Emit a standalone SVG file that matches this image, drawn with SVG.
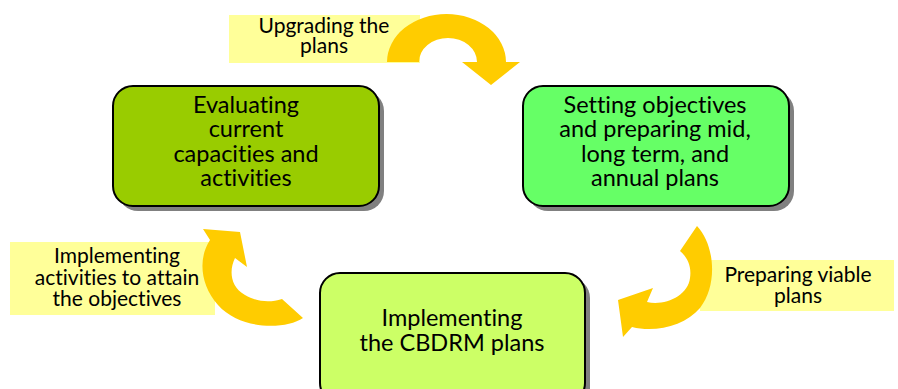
<svg xmlns="http://www.w3.org/2000/svg" width="898" height="389" viewBox="0 0 898 389">
<style>
.node{stroke:#000;stroke-width:2}
.shadow{fill:#808080}
.lbl{fill:#ffff99}
.arrow{fill:#ffcc00}
text{font-family:Lato,"Liberation Sans",sans-serif;fill:#000;text-anchor:middle;font-variant-ligatures:none;font-feature-settings:"liga" 0}
.nt{font-size:23.5px}
.lt{font-size:21px}
</style>
<rect width="898" height="389" fill="#fff"/>
<g id="label-upgrading">
<rect class="lbl" x="229" y="15" width="191" height="48"/>
<text class="lt" x="324" y="33">Upgrading the</text>
<text class="lt" x="324" y="53">plans</text>
</g>
<g id="label-implementing">
<rect class="lbl" x="10" y="242" width="205" height="73"/>
<text class="lt" x="117" y="263">Implementing</text>
<text class="lt" x="117" y="285">activities to attain</text>
<text class="lt" x="117" y="306">the objectives</text>
</g>
<g id="label-preparing">
<rect class="lbl" x="700" y="260" width="194" height="51"/>
<text class="lt" x="798" y="282">Preparing viable</text>
<text class="lt" x="798" y="303">plans</text>
</g>
<g id="node-evaluating">
<rect class="shadow" x="118" y="91" width="266" height="120" rx="20"/>
<rect class="node" x="113" y="86" width="266" height="120" rx="20" fill="#99cc00"/>
<text class="nt" x="246" y="113">Evaluating</text>
<text class="nt" x="246" y="137">current</text>
<text class="nt" x="246" y="162">capacities and</text>
<text class="nt" x="246" y="186">activities</text>
</g>
<g id="node-setting">
<rect class="shadow" x="528" y="91" width="266" height="120" rx="20"/>
<rect class="node" x="523" y="86" width="266" height="120" rx="20" fill="#66ff66"/>
<text class="nt" x="655" y="113">Setting objectives</text>
<text class="nt" x="655" y="137">and preparing mid,</text>
<text class="nt" x="655" y="162">long term, and</text>
<text class="nt" x="655" y="186">annual plans</text>
</g>
<g id="node-implementing">
<rect class="shadow" x="325" y="278" width="265" height="130" rx="20"/>
<rect class="node" x="320" y="273" width="265" height="130" rx="20" fill="#ccff66"/>
<text class="nt" x="452" y="326">Implementing</text>
<text class="nt" x="452" y="351">the CBDRM plans</text>
</g>
<g id="connectors">
<path class="arrow" d="M387,62 A59.5,48 0 0 1 506,62 L520,62 L491,85 L462,62 L477,62 A29,24 0 0 0 419,62 Z"/>
<path class="arrow" d="M697,226 C715,245 718,285 700,308 C685,326 655,333 632,327 L623,337 L618,300 L653,288 L647,302 C665,306 688,296 690,278 C692,265 686,256 680,251 Z"/>
<path class="arrow" d="M303,318 C285,330 240,330 218,305 C200,285 198,258 210,240 L203,229 L240,232 L247,267 L235,258 C229,270 230,287 245,295 C257,302 270,303 282,299 Z"/>
</g>
</svg>
